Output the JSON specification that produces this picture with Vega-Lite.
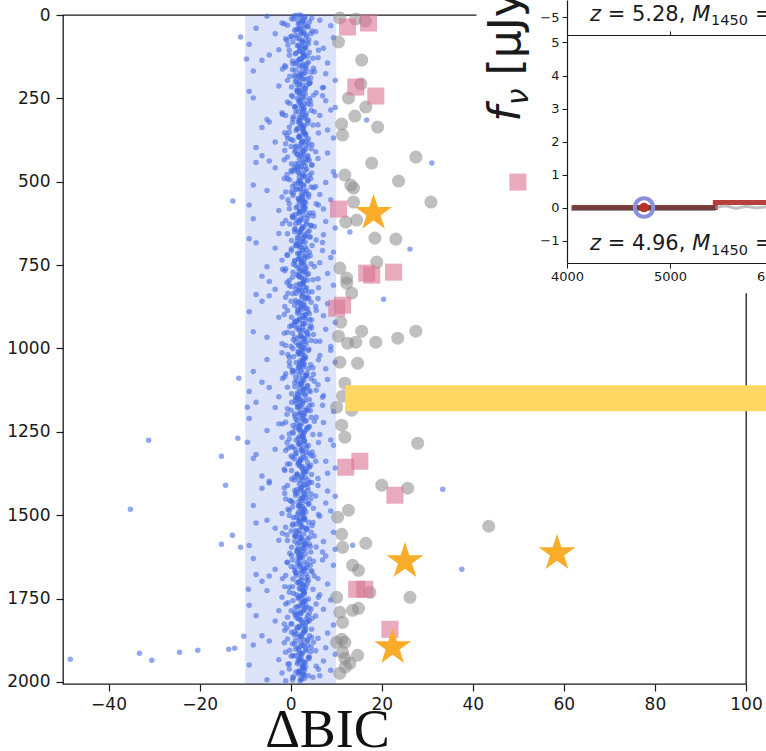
{
"$schema":"https://vega.github.io/schema/vega-lite/v6.json",
"width":683,"height":669,
"autosize":{"type":"none"},
"padding":{"left":63,"top":15,"right":20,"bottom":67},
"background":"#ffffff",
"config":{
 "view":{"stroke":"#1a1a1a","strokeWidth":1.3},
 "axis":{"grid":false,"domain":false,"labelFont":"DejaVu Sans","titleFont":"DejaVu Sans","labelColor":"#1a1a1a","tickColor":"#1a1a1a","domainColor":"#1a1a1a","labelFlush":false,"labelOverlap":false},
 "text":{"font":"DejaVu Sans","color":"#1a1a1a"}
},
"datasets":{
"blue":[
{"x":2.1,"y":0},{"x":-5.2,"y":4},{"x":3.0,"y":8},{"x":0.6,"y":12},{"x":6.4,"y":16},{"x":2.5,"y":20},{"x":-1.9,"y":24},{"x":1.7,"y":28},{"x":8.8,"y":32},{"x":2.9,"y":36},
{"x":-7.6,"y":40},{"x":1.2,"y":44},{"x":4.7,"y":48},{"x":2.3,"y":52},{"x":-3.4,"y":56},{"x":3.5,"y":60},{"x":0.1,"y":64},{"x":9.4,"y":68},{"x":1.9,"y":72},{"x":-0.8,"y":76},
{"x":2.7,"y":80},{"x":5.6,"y":84},{"x":-9.1,"y":88},{"x":1.5,"y":92},{"x":3.2,"y":96},{"x":7.2,"y":100},{"x":-2.6,"y":104},{"x":2.0,"y":108},{"x":4.1,"y":112},{"x":1.0,"y":116},
{"x":-4.7,"y":120},{"x":3.7,"y":124},{"x":6.0,"y":128},{"x":2.4,"y":132},{"x":-6.3,"y":136},{"x":1.4,"y":140},{"x":8.1,"y":144},{"x":2.8,"y":148},{"x":-1.3,"y":152},{"x":3.3,"y":156},
{"x":5.0,"y":160},{"x":0.4,"y":164},{"x":-8.2,"y":168},{"x":2.2,"y":172},{"x":7.7,"y":176},{"x":1.8,"y":180},{"x":-0.2,"y":184},{"x":4.4,"y":188},{"x":2.6,"y":192},{"x":9.8,"y":196},
{"x":1.0,"y":201},{"x":4.1,"y":205},{"x":2.0,"y":209},{"x":-2.6,"y":213},{"x":7.2,"y":217},{"x":3.2,"y":221},{"x":1.5,"y":225},{"x":-9.1,"y":229},{"x":5.6,"y":233},{"x":2.7,"y":237},
{"x":5.0,"y":241},{"x":0.4,"y":245},{"x":-8.2,"y":249},{"x":2.2,"y":253},{"x":7.7,"y":257},{"x":1.8,"y":261},{"x":-0.2,"y":265},{"x":4.4,"y":269},{"x":2.6,"y":273},{"x":9.8,"y":277},
{"x":2.9,"y":281},{"x":8.8,"y":285},{"x":1.7,"y":289},{"x":-1.9,"y":293},{"x":2.5,"y":297},{"x":6.4,"y":301},{"x":0.6,"y":305},{"x":3.0,"y":309},{"x":-5.2,"y":313},{"x":2.1,"y":317},
{"x":-4.7,"y":321},{"x":3.7,"y":325},{"x":6.0,"y":329},{"x":2.4,"y":333},{"x":-6.3,"y":337},{"x":1.4,"y":341},{"x":8.1,"y":345},{"x":2.8,"y":349},{"x":-1.3,"y":353},{"x":3.3,"y":357},
{"x":-0.8,"y":361},{"x":1.9,"y":365},{"x":9.4,"y":369},{"x":0.1,"y":373},{"x":3.5,"y":377},{"x":-3.4,"y":381},{"x":2.3,"y":385},{"x":4.7,"y":389},{"x":1.2,"y":393},{"x":-7.6,"y":397},
{"x":3.3,"y":402},{"x":-1.3,"y":406},{"x":2.8,"y":410},{"x":8.1,"y":414},{"x":1.4,"y":418},{"x":-6.3,"y":422},{"x":2.4,"y":426},{"x":6.0,"y":430},{"x":3.7,"y":434},{"x":-4.7,"y":438},
{"x":-7.6,"y":442},{"x":1.2,"y":446},{"x":4.7,"y":450},{"x":2.3,"y":454},{"x":-3.4,"y":458},{"x":3.5,"y":462},{"x":0.1,"y":466},{"x":9.4,"y":470},{"x":1.9,"y":474},{"x":-0.8,"y":478},
{"x":9.8,"y":482},{"x":2.6,"y":486},{"x":4.4,"y":490},{"x":-0.2,"y":494},{"x":1.8,"y":498},{"x":7.7,"y":502},{"x":2.2,"y":506},{"x":-8.2,"y":510},{"x":0.4,"y":514},{"x":5.0,"y":518},
{"x":2.1,"y":522},{"x":-5.2,"y":526},{"x":3.0,"y":530},{"x":0.6,"y":534},{"x":6.4,"y":538},{"x":2.5,"y":542},{"x":-1.9,"y":546},{"x":1.7,"y":550},{"x":8.8,"y":554},{"x":2.9,"y":558},
{"x":2.7,"y":562},{"x":5.6,"y":566},{"x":-9.1,"y":570},{"x":1.5,"y":574},{"x":3.2,"y":578},{"x":7.2,"y":582},{"x":-2.6,"y":586},{"x":2.0,"y":590},{"x":4.1,"y":594},{"x":1.0,"y":598},
{"x":5.0,"y":603},{"x":0.4,"y":607},{"x":-8.2,"y":611},{"x":2.2,"y":615},{"x":7.7,"y":619},{"x":1.8,"y":623},{"x":-0.2,"y":627},{"x":4.4,"y":631},{"x":2.6,"y":635},{"x":9.8,"y":639},
{"x":1.0,"y":643},{"x":4.1,"y":647},{"x":2.0,"y":651},{"x":-2.6,"y":655},{"x":7.2,"y":659},{"x":3.2,"y":663},{"x":1.5,"y":667},{"x":-9.1,"y":671},{"x":5.6,"y":675},{"x":2.7,"y":679},
{"x":-7.6,"y":683},{"x":1.2,"y":687},{"x":4.7,"y":691},{"x":2.3,"y":695},{"x":-3.4,"y":699},{"x":3.5,"y":703},{"x":0.1,"y":707},{"x":9.4,"y":711},{"x":1.9,"y":715},{"x":-0.8,"y":719},
{"x":2.9,"y":723},{"x":8.8,"y":727},{"x":1.7,"y":731},{"x":-1.9,"y":735},{"x":2.5,"y":739},{"x":6.4,"y":743},{"x":0.6,"y":747},{"x":3.0,"y":751},{"x":-5.2,"y":755},{"x":2.1,"y":759},
{"x":3.3,"y":763},{"x":-1.3,"y":767},{"x":2.8,"y":771},{"x":8.1,"y":775},{"x":1.4,"y":779},{"x":-6.3,"y":783},{"x":2.4,"y":787},{"x":6.0,"y":791},{"x":3.7,"y":795},{"x":-4.7,"y":799},
{"x":-0.8,"y":802},{"x":1.9,"y":806},{"x":9.4,"y":810},{"x":0.1,"y":814},{"x":3.5,"y":818},{"x":-3.4,"y":822},{"x":2.3,"y":826},{"x":4.7,"y":830},{"x":1.2,"y":834},{"x":-7.6,"y":838},
{"x":-4.7,"y":842},{"x":3.7,"y":846},{"x":6.0,"y":850},{"x":2.4,"y":854},{"x":-6.3,"y":858},{"x":1.4,"y":862},{"x":8.1,"y":866},{"x":2.8,"y":870},{"x":-1.3,"y":874},{"x":3.3,"y":878},
{"x":2.7,"y":882},{"x":5.6,"y":886},{"x":-9.1,"y":890},{"x":1.5,"y":894},{"x":3.2,"y":898},{"x":7.2,"y":902},{"x":-2.6,"y":906},{"x":2.0,"y":910},{"x":4.1,"y":914},{"x":1.0,"y":918},
{"x":9.8,"y":922},{"x":2.6,"y":926},{"x":4.4,"y":930},{"x":-0.2,"y":934},{"x":1.8,"y":938},{"x":7.7,"y":942},{"x":2.2,"y":946},{"x":-8.2,"y":950},{"x":0.4,"y":954},{"x":5.0,"y":958},
{"x":2.1,"y":962},{"x":-5.2,"y":966},{"x":3.0,"y":970},{"x":0.6,"y":974},{"x":6.4,"y":978},{"x":2.5,"y":982},{"x":-1.9,"y":986},{"x":1.7,"y":990},{"x":8.8,"y":994},{"x":2.9,"y":998},
{"x":2.9,"y":1001},{"x":8.8,"y":1005},{"x":1.7,"y":1009},{"x":-1.9,"y":1013},{"x":2.5,"y":1017},{"x":6.4,"y":1021},{"x":0.6,"y":1025},{"x":3.0,"y":1029},{"x":-5.2,"y":1033},{"x":2.1,"y":1037},
{"x":9.8,"y":1041},{"x":2.6,"y":1045},{"x":4.4,"y":1049},{"x":-0.2,"y":1053},{"x":1.8,"y":1057},{"x":7.7,"y":1061},{"x":2.2,"y":1065},{"x":-8.2,"y":1069},{"x":0.4,"y":1073},{"x":5.0,"y":1077},
{"x":3.3,"y":1081},{"x":-1.3,"y":1085},{"x":2.8,"y":1089},{"x":8.1,"y":1093},{"x":1.4,"y":1097},{"x":-6.3,"y":1101},{"x":2.4,"y":1105},{"x":6.0,"y":1109},{"x":3.7,"y":1113},{"x":-4.7,"y":1117},
{"x":2.7,"y":1121},{"x":5.6,"y":1125},{"x":-9.1,"y":1129},{"x":1.5,"y":1133},{"x":3.2,"y":1137},{"x":7.2,"y":1141},{"x":-2.6,"y":1145},{"x":2.0,"y":1149},{"x":4.1,"y":1153},{"x":1.0,"y":1157},
{"x":-7.6,"y":1161},{"x":1.2,"y":1165},{"x":4.7,"y":1169},{"x":2.3,"y":1173},{"x":-3.4,"y":1177},{"x":3.5,"y":1181},{"x":0.1,"y":1185},{"x":9.4,"y":1189},{"x":1.9,"y":1193},{"x":-0.8,"y":1197},
{"x":2.7,"y":1202},{"x":5.6,"y":1206},{"x":-9.1,"y":1210},{"x":1.5,"y":1214},{"x":3.2,"y":1218},{"x":7.2,"y":1222},{"x":-2.6,"y":1226},{"x":2.0,"y":1230},{"x":4.1,"y":1234},{"x":1.0,"y":1238},
{"x":2.1,"y":1242},{"x":-5.2,"y":1246},{"x":3.0,"y":1250},{"x":0.6,"y":1254},{"x":6.4,"y":1258},{"x":2.5,"y":1262},{"x":-1.9,"y":1266},{"x":1.7,"y":1270},{"x":8.8,"y":1274},{"x":2.9,"y":1278},
{"x":-0.8,"y":1282},{"x":1.9,"y":1286},{"x":9.4,"y":1290},{"x":0.1,"y":1294},{"x":3.5,"y":1298},{"x":-3.4,"y":1302},{"x":2.3,"y":1306},{"x":4.7,"y":1310},{"x":1.2,"y":1314},{"x":-7.6,"y":1318},
{"x":5.0,"y":1322},{"x":0.4,"y":1326},{"x":-8.2,"y":1330},{"x":2.2,"y":1334},{"x":7.7,"y":1338},{"x":1.8,"y":1342},{"x":-0.2,"y":1346},{"x":4.4,"y":1350},{"x":2.6,"y":1354},{"x":9.8,"y":1358},
{"x":3.3,"y":1362},{"x":-1.3,"y":1366},{"x":2.8,"y":1370},{"x":8.1,"y":1374},{"x":1.4,"y":1378},{"x":-6.3,"y":1382},{"x":2.4,"y":1386},{"x":6.0,"y":1390},{"x":3.7,"y":1394},{"x":-4.7,"y":1398},
{"x":-4.7,"y":1403},{"x":3.7,"y":1407},{"x":6.0,"y":1411},{"x":2.4,"y":1415},{"x":-6.3,"y":1419},{"x":1.4,"y":1423},{"x":8.1,"y":1427},{"x":2.8,"y":1431},{"x":-1.3,"y":1435},{"x":3.3,"y":1439},
{"x":9.8,"y":1443},{"x":2.6,"y":1447},{"x":4.4,"y":1451},{"x":-0.2,"y":1455},{"x":1.8,"y":1459},{"x":7.7,"y":1463},{"x":2.2,"y":1467},{"x":-8.2,"y":1471},{"x":0.4,"y":1475},{"x":5.0,"y":1479},
{"x":2.9,"y":1483},{"x":8.8,"y":1487},{"x":1.7,"y":1491},{"x":-1.9,"y":1495},{"x":2.5,"y":1499},{"x":6.4,"y":1503},{"x":0.6,"y":1507},{"x":3.0,"y":1511},{"x":-5.2,"y":1515},{"x":2.1,"y":1519},
{"x":-7.6,"y":1523},{"x":1.2,"y":1527},{"x":4.7,"y":1531},{"x":2.3,"y":1535},{"x":-3.4,"y":1539},{"x":3.5,"y":1543},{"x":0.1,"y":1547},{"x":9.4,"y":1551},{"x":1.9,"y":1555},{"x":-0.8,"y":1559},
{"x":1.0,"y":1563},{"x":4.1,"y":1567},{"x":2.0,"y":1571},{"x":-2.6,"y":1575},{"x":7.2,"y":1579},{"x":3.2,"y":1583},{"x":1.5,"y":1587},{"x":-9.1,"y":1591},{"x":5.6,"y":1595},{"x":2.7,"y":1599},
{"x":9.8,"y":1602},{"x":2.6,"y":1606},{"x":4.4,"y":1610},{"x":-0.2,"y":1614},{"x":1.8,"y":1618},{"x":7.7,"y":1622},{"x":2.2,"y":1626},{"x":-8.2,"y":1630},{"x":0.4,"y":1634},{"x":5.0,"y":1638},
{"x":-0.8,"y":1642},{"x":1.9,"y":1646},{"x":9.4,"y":1650},{"x":0.1,"y":1654},{"x":3.5,"y":1658},{"x":-3.4,"y":1662},{"x":2.3,"y":1666},{"x":4.7,"y":1670},{"x":1.2,"y":1674},{"x":-7.6,"y":1678},
{"x":-4.7,"y":1682},{"x":3.7,"y":1686},{"x":6.0,"y":1690},{"x":2.4,"y":1694},{"x":-6.3,"y":1698},{"x":1.4,"y":1702},{"x":8.1,"y":1706},{"x":2.8,"y":1710},{"x":-1.3,"y":1714},{"x":3.3,"y":1718},
{"x":2.1,"y":1722},{"x":-5.2,"y":1726},{"x":3.0,"y":1730},{"x":0.6,"y":1734},{"x":6.4,"y":1738},{"x":2.5,"y":1742},{"x":-1.9,"y":1746},{"x":1.7,"y":1750},{"x":8.8,"y":1754},{"x":2.9,"y":1758},
{"x":2.7,"y":1762},{"x":5.6,"y":1766},{"x":-9.1,"y":1770},{"x":1.5,"y":1774},{"x":3.2,"y":1778},{"x":7.2,"y":1782},{"x":-2.6,"y":1786},{"x":2.0,"y":1790},{"x":4.1,"y":1794},{"x":1.0,"y":1798},
{"x":-7.6,"y":1801},{"x":1.2,"y":1805},{"x":4.7,"y":1809},{"x":2.3,"y":1813},{"x":-3.4,"y":1817},{"x":3.5,"y":1821},{"x":0.1,"y":1825},{"x":9.4,"y":1829},{"x":1.9,"y":1833},{"x":-0.8,"y":1837},
{"x":3.3,"y":1841},{"x":-1.3,"y":1845},{"x":2.8,"y":1849},{"x":8.1,"y":1853},{"x":1.4,"y":1857},{"x":-6.3,"y":1861},{"x":2.4,"y":1865},{"x":6.0,"y":1869},{"x":3.7,"y":1873},{"x":-4.7,"y":1877},
{"x":5.0,"y":1881},{"x":0.4,"y":1885},{"x":-8.2,"y":1889},{"x":2.2,"y":1893},{"x":7.7,"y":1897},{"x":1.8,"y":1901},{"x":-0.2,"y":1905},{"x":4.4,"y":1909},{"x":2.6,"y":1913},{"x":9.8,"y":1917},
{"x":1.0,"y":1921},{"x":4.1,"y":1925},{"x":2.0,"y":1929},{"x":-2.6,"y":1933},{"x":7.2,"y":1937},{"x":3.2,"y":1941},{"x":1.5,"y":1945},{"x":-9.1,"y":1949},{"x":5.6,"y":1953},{"x":2.7,"y":1957},
{"x":2.9,"y":1961},{"x":8.8,"y":1965},{"x":1.7,"y":1969},{"x":-1.9,"y":1973},{"x":2.5,"y":1977},{"x":6.4,"y":1981},{"x":0.6,"y":1985},{"x":3.0,"y":1989},{"x":-5.2,"y":1993},{"x":2.1,"y":1997},
{"x":2.3,"y":3},{"x":1.6,"y":16},{"x":3.1,"y":29},{"x":2.0,"y":42},{"x":2.8,"y":55},{"x":1.3,"y":68},{"x":3.5,"y":81},{"x":2.5,"y":94},{"x":1.9,"y":107},{"x":3.0,"y":120},{"x":2.2,"y":133},{"x":1.1,"y":146},{"x":2.7,"y":159},{"x":3.3,"y":172},{"x":1.8,"y":185},
{"x":1.3,"y":198},{"x":3.5,"y":211},{"x":2.5,"y":224},{"x":1.9,"y":237},{"x":3.0,"y":250},{"x":2.2,"y":263},{"x":1.1,"y":276},{"x":2.7,"y":289},{"x":3.3,"y":302},{"x":1.8,"y":315},{"x":2.3,"y":328},{"x":1.6,"y":341},{"x":3.1,"y":354},{"x":2.0,"y":367},{"x":2.8,"y":380},
{"x":2.2,"y":393},{"x":1.1,"y":406},{"x":2.7,"y":419},{"x":3.3,"y":432},{"x":1.8,"y":445},{"x":2.3,"y":458},{"x":1.6,"y":471},{"x":3.1,"y":484},{"x":2.0,"y":497},{"x":2.8,"y":510},{"x":1.3,"y":523},{"x":3.5,"y":536},{"x":2.5,"y":549},{"x":1.9,"y":562},{"x":3.0,"y":575},
{"x":2.0,"y":588},{"x":2.8,"y":601},{"x":1.3,"y":614},{"x":3.5,"y":627},{"x":2.5,"y":640},{"x":1.9,"y":653},{"x":3.0,"y":666},{"x":2.2,"y":679},{"x":1.1,"y":692},{"x":2.7,"y":705},{"x":3.3,"y":718},{"x":1.8,"y":731},{"x":2.3,"y":744},{"x":1.6,"y":757},{"x":3.1,"y":770},
{"x":1.9,"y":783},{"x":3.0,"y":796},{"x":2.2,"y":809},{"x":1.1,"y":822},{"x":2.7,"y":835},{"x":3.3,"y":848},{"x":1.8,"y":861},{"x":2.3,"y":874},{"x":1.6,"y":887},{"x":3.1,"y":900},{"x":2.0,"y":913},{"x":2.8,"y":926},{"x":1.3,"y":939},{"x":3.5,"y":952},{"x":2.5,"y":965},
{"x":3.3,"y":978},{"x":1.8,"y":991},{"x":2.3,"y":1004},{"x":1.6,"y":1017},{"x":3.1,"y":1030},{"x":2.0,"y":1043},{"x":2.8,"y":1056},{"x":1.3,"y":1069},{"x":3.5,"y":1082},{"x":2.5,"y":1095},{"x":1.9,"y":1108},{"x":3.0,"y":1121},{"x":2.2,"y":1134},{"x":1.1,"y":1147},{"x":2.7,"y":1160},
{"x":1.6,"y":1173},{"x":3.1,"y":1186},{"x":2.0,"y":1199},{"x":2.8,"y":1212},{"x":1.3,"y":1225},{"x":3.5,"y":1238},{"x":2.5,"y":1251},{"x":1.9,"y":1264},{"x":3.0,"y":1277},{"x":2.2,"y":1290},{"x":1.1,"y":1303},{"x":2.7,"y":1316},{"x":3.3,"y":1329},{"x":1.8,"y":1342},{"x":2.3,"y":1355},
{"x":3.5,"y":1368},{"x":2.5,"y":1381},{"x":1.9,"y":1394},{"x":3.0,"y":1407},{"x":2.2,"y":1420},{"x":1.1,"y":1433},{"x":2.7,"y":1446},{"x":3.3,"y":1459},{"x":1.8,"y":1472},{"x":2.3,"y":1485},{"x":1.6,"y":1498},{"x":3.1,"y":1511},{"x":2.0,"y":1524},{"x":2.8,"y":1537},{"x":1.3,"y":1550},
{"x":1.1,"y":1563},{"x":2.7,"y":1576},{"x":3.3,"y":1589},{"x":1.8,"y":1602},{"x":2.3,"y":1615},{"x":1.6,"y":1628},{"x":3.1,"y":1641},{"x":2.0,"y":1654},{"x":2.8,"y":1667},{"x":1.3,"y":1680},{"x":3.5,"y":1693},{"x":2.5,"y":1706},{"x":1.9,"y":1719},{"x":3.0,"y":1732},{"x":2.2,"y":1745},
{"x":3.1,"y":1758},{"x":2.0,"y":1771},{"x":2.8,"y":1784},{"x":1.3,"y":1797},{"x":3.5,"y":1810},{"x":2.5,"y":1823},{"x":1.9,"y":1836},{"x":3.0,"y":1849},{"x":2.2,"y":1862},{"x":1.1,"y":1875},{"x":2.7,"y":1888},{"x":3.3,"y":1901},{"x":1.8,"y":1914},{"x":2.3,"y":1927},{"x":1.6,"y":1940},
{"x":2.5,"y":1953},{"x":1.9,"y":1966},{"x":3.0,"y":1979},{"x":2.2,"y":1992},
{"x":1.4,"y":1},{"x":3.2,"y":6},{"x":0.2,"y":11},{"x":2.6,"y":16},{"x":4.1,"y":21},{"x":1.9,"y":26},{"x":-0.7,"y":31},{"x":3.7,"y":36},{"x":2.2,"y":41},{"x":0.9,"y":46},{"x":2.9,"y":51},{"x":4.5,"y":56},{"x":1.1,"y":61},{"x":3.4,"y":66},{"x":-1.1,"y":71},{"x":2.4,"y":76},{"x":0.5,"y":81},{"x":3.9,"y":86},{"x":1.7,"y":91},{"x":2.0,"y":96},{"x":3.0,"y":101},{"x":-0.3,"y":106},{"x":2.7,"y":111},
{"x":2.7,"y":116},{"x":-0.3,"y":121},{"x":3.0,"y":126},{"x":2.0,"y":131},{"x":1.7,"y":136},{"x":3.9,"y":141},{"x":0.5,"y":146},{"x":2.4,"y":151},{"x":-1.1,"y":156},{"x":3.4,"y":161},{"x":1.1,"y":166},{"x":4.5,"y":171},{"x":2.9,"y":176},{"x":0.9,"y":181},{"x":2.2,"y":186},{"x":3.7,"y":191},{"x":-0.7,"y":196},{"x":1.9,"y":201},{"x":4.1,"y":206},{"x":2.6,"y":211},{"x":0.2,"y":216},{"x":3.2,"y":221},{"x":1.4,"y":226},
{"x":1.4,"y":231},{"x":3.2,"y":236},{"x":0.2,"y":241},{"x":2.6,"y":246},{"x":4.1,"y":251},{"x":1.9,"y":256},{"x":-0.7,"y":261},{"x":3.7,"y":266},{"x":2.2,"y":271},{"x":0.9,"y":276},{"x":2.9,"y":281},{"x":4.5,"y":286},{"x":1.1,"y":291},{"x":3.4,"y":296},{"x":-1.1,"y":301},{"x":2.4,"y":306},{"x":0.5,"y":311},{"x":3.9,"y":316},{"x":1.7,"y":321},{"x":2.0,"y":326},{"x":3.0,"y":331},{"x":-0.3,"y":336},{"x":2.7,"y":341},
{"x":2.7,"y":346},{"x":-0.3,"y":351},{"x":3.0,"y":356},{"x":2.0,"y":361},{"x":1.7,"y":366},{"x":3.9,"y":371},{"x":0.5,"y":376},{"x":2.4,"y":381},{"x":-1.1,"y":386},{"x":3.4,"y":391},{"x":1.1,"y":396},{"x":4.5,"y":401},{"x":2.9,"y":406},{"x":0.9,"y":411},{"x":2.2,"y":416},{"x":3.7,"y":421},{"x":-0.7,"y":426},{"x":1.9,"y":431},{"x":4.1,"y":436},{"x":2.6,"y":441},{"x":0.2,"y":446},{"x":3.2,"y":451},{"x":1.4,"y":456},
{"x":1.4,"y":461},{"x":3.2,"y":466},{"x":0.2,"y":471},{"x":2.6,"y":476},{"x":4.1,"y":481},{"x":1.9,"y":486},{"x":-0.7,"y":491},{"x":3.7,"y":496},{"x":2.2,"y":501},{"x":0.9,"y":506},{"x":2.9,"y":511},{"x":4.5,"y":516},{"x":1.1,"y":521},{"x":3.4,"y":526},{"x":-1.1,"y":531},{"x":2.4,"y":536},{"x":0.5,"y":541},{"x":3.9,"y":546},{"x":1.7,"y":551},{"x":2.0,"y":556},{"x":3.0,"y":561},{"x":-0.3,"y":566},{"x":2.7,"y":571},
{"x":2.7,"y":576},{"x":-0.3,"y":581},{"x":3.0,"y":586},{"x":2.0,"y":591},{"x":1.7,"y":596},{"x":3.9,"y":601},{"x":0.5,"y":606},{"x":2.4,"y":611},{"x":-1.1,"y":616},{"x":3.4,"y":621},{"x":1.1,"y":626},{"x":4.5,"y":631},{"x":2.9,"y":636},{"x":0.9,"y":641},{"x":2.2,"y":646},{"x":3.7,"y":651},{"x":-0.7,"y":656},{"x":1.9,"y":661},{"x":4.1,"y":666},{"x":2.6,"y":671},{"x":0.2,"y":676},{"x":3.2,"y":681},{"x":1.4,"y":686},
{"x":1.4,"y":691},{"x":3.2,"y":696},{"x":0.2,"y":701},{"x":2.6,"y":706},{"x":4.1,"y":711},{"x":1.9,"y":716},{"x":-0.7,"y":721},{"x":3.7,"y":726},{"x":2.2,"y":731},{"x":0.9,"y":736},{"x":2.9,"y":741},{"x":4.5,"y":746},{"x":1.1,"y":751},{"x":3.4,"y":756},{"x":-1.1,"y":761},{"x":2.4,"y":766},{"x":0.5,"y":771},{"x":3.9,"y":776},{"x":1.7,"y":781},{"x":2.0,"y":786},{"x":3.0,"y":791},{"x":-0.3,"y":796},{"x":2.7,"y":801},
{"x":2.7,"y":806},{"x":-0.3,"y":811},{"x":3.0,"y":816},{"x":2.0,"y":821},{"x":1.7,"y":826},{"x":3.9,"y":831},{"x":0.5,"y":836},{"x":2.4,"y":841},{"x":-1.1,"y":846},{"x":3.4,"y":851},{"x":1.1,"y":856},{"x":4.5,"y":861},{"x":2.9,"y":866},{"x":0.9,"y":871},{"x":2.2,"y":876},{"x":3.7,"y":881},{"x":-0.7,"y":886},{"x":1.9,"y":891},{"x":4.1,"y":896},{"x":2.6,"y":901},{"x":0.2,"y":906},{"x":3.2,"y":911},{"x":1.4,"y":916},
{"x":1.4,"y":921},{"x":3.2,"y":926},{"x":0.2,"y":931},{"x":2.6,"y":936},{"x":4.1,"y":941},{"x":1.9,"y":946},{"x":-0.7,"y":951},{"x":3.7,"y":956},{"x":2.2,"y":961},{"x":0.9,"y":966},{"x":2.9,"y":971},{"x":4.5,"y":976},{"x":1.1,"y":981},{"x":3.4,"y":986},{"x":-1.1,"y":991},{"x":2.4,"y":996},{"x":0.5,"y":1001},{"x":3.9,"y":1006},{"x":1.7,"y":1011},{"x":2.0,"y":1016},{"x":3.0,"y":1021},{"x":-0.3,"y":1026},{"x":2.7,"y":1031},
{"x":2.7,"y":1036},{"x":-0.3,"y":1041},{"x":3.0,"y":1046},{"x":2.0,"y":1051},{"x":1.7,"y":1056},{"x":3.9,"y":1061},{"x":0.5,"y":1066},{"x":2.4,"y":1071},{"x":-1.1,"y":1076},{"x":3.4,"y":1081},{"x":1.1,"y":1086},{"x":4.5,"y":1091},{"x":2.9,"y":1096},{"x":0.9,"y":1101},{"x":2.2,"y":1106},{"x":3.7,"y":1111},{"x":-0.7,"y":1116},{"x":1.9,"y":1121},{"x":4.1,"y":1126},{"x":2.6,"y":1131},{"x":0.2,"y":1136},{"x":3.2,"y":1141},{"x":1.4,"y":1146},
{"x":1.4,"y":1151},{"x":3.2,"y":1156},{"x":0.2,"y":1161},{"x":2.6,"y":1166},{"x":4.1,"y":1171},{"x":1.9,"y":1176},{"x":-0.7,"y":1181},{"x":3.7,"y":1186},{"x":2.2,"y":1191},{"x":0.9,"y":1196},{"x":2.9,"y":1201},{"x":4.5,"y":1206},{"x":1.1,"y":1211},{"x":3.4,"y":1216},{"x":-1.1,"y":1221},{"x":2.4,"y":1226},{"x":0.5,"y":1231},{"x":3.9,"y":1236},{"x":1.7,"y":1241},{"x":2.0,"y":1246},{"x":3.0,"y":1251},{"x":-0.3,"y":1256},{"x":2.7,"y":1261},
{"x":2.7,"y":1266},{"x":-0.3,"y":1271},{"x":3.0,"y":1276},{"x":2.0,"y":1281},{"x":1.7,"y":1286},{"x":3.9,"y":1291},{"x":0.5,"y":1296},{"x":2.4,"y":1301},{"x":-1.1,"y":1306},{"x":3.4,"y":1311},{"x":1.1,"y":1316},{"x":4.5,"y":1321},{"x":2.9,"y":1326},{"x":0.9,"y":1331},{"x":2.2,"y":1336},{"x":3.7,"y":1341},{"x":-0.7,"y":1346},{"x":1.9,"y":1351},{"x":4.1,"y":1356},{"x":2.6,"y":1361},{"x":0.2,"y":1366},{"x":3.2,"y":1371},{"x":1.4,"y":1376},
{"x":1.4,"y":1381},{"x":3.2,"y":1386},{"x":0.2,"y":1391},{"x":2.6,"y":1396},{"x":4.1,"y":1401},{"x":1.9,"y":1406},{"x":-0.7,"y":1411},{"x":3.7,"y":1416},{"x":2.2,"y":1421},{"x":0.9,"y":1426},{"x":2.9,"y":1431},{"x":4.5,"y":1436},{"x":1.1,"y":1441},{"x":3.4,"y":1446},{"x":-1.1,"y":1451},{"x":2.4,"y":1456},{"x":0.5,"y":1461},{"x":3.9,"y":1466},{"x":1.7,"y":1471},{"x":2.0,"y":1476},{"x":3.0,"y":1481},{"x":-0.3,"y":1486},{"x":2.7,"y":1491},
{"x":2.7,"y":1496},{"x":-0.3,"y":1501},{"x":3.0,"y":1506},{"x":2.0,"y":1511},{"x":1.7,"y":1516},{"x":3.9,"y":1521},{"x":0.5,"y":1526},{"x":2.4,"y":1531},{"x":-1.1,"y":1536},{"x":3.4,"y":1541},{"x":1.1,"y":1546},{"x":4.5,"y":1551},{"x":2.9,"y":1556},{"x":0.9,"y":1561},{"x":2.2,"y":1566},{"x":3.7,"y":1571},{"x":-0.7,"y":1576},{"x":1.9,"y":1581},{"x":4.1,"y":1586},{"x":2.6,"y":1591},{"x":0.2,"y":1596},{"x":3.2,"y":1601},{"x":1.4,"y":1606},
{"x":1.4,"y":1611},{"x":3.2,"y":1616},{"x":0.2,"y":1621},{"x":2.6,"y":1626},{"x":4.1,"y":1631},{"x":1.9,"y":1636},{"x":-0.7,"y":1641},{"x":3.7,"y":1646},{"x":2.2,"y":1651},{"x":0.9,"y":1656},{"x":2.9,"y":1661},{"x":4.5,"y":1666},{"x":1.1,"y":1671},{"x":3.4,"y":1676},{"x":-1.1,"y":1681},{"x":2.4,"y":1686},{"x":0.5,"y":1691},{"x":3.9,"y":1696},{"x":1.7,"y":1701},{"x":2.0,"y":1706},{"x":3.0,"y":1711},{"x":-0.3,"y":1716},{"x":2.7,"y":1721},
{"x":2.7,"y":1726},{"x":-0.3,"y":1731},{"x":3.0,"y":1736},{"x":2.0,"y":1741},{"x":1.7,"y":1746},{"x":3.9,"y":1751},{"x":0.5,"y":1756},{"x":2.4,"y":1761},{"x":-1.1,"y":1766},{"x":3.4,"y":1771},{"x":1.1,"y":1776},{"x":4.5,"y":1781},{"x":2.9,"y":1786},{"x":0.9,"y":1791},{"x":2.2,"y":1796},{"x":3.7,"y":1801},{"x":-0.7,"y":1806},{"x":1.9,"y":1811},{"x":4.1,"y":1816},{"x":2.6,"y":1821},{"x":0.2,"y":1826},{"x":3.2,"y":1831},{"x":1.4,"y":1836},
{"x":1.4,"y":1841},{"x":3.2,"y":1846},{"x":0.2,"y":1851},{"x":2.6,"y":1856},{"x":4.1,"y":1861},{"x":1.9,"y":1866},{"x":-0.7,"y":1871},{"x":3.7,"y":1876},{"x":2.2,"y":1881},{"x":0.9,"y":1886},{"x":2.9,"y":1891},{"x":4.5,"y":1896},{"x":1.1,"y":1901},{"x":3.4,"y":1906},{"x":-1.1,"y":1911},{"x":2.4,"y":1916},{"x":0.5,"y":1921},{"x":3.9,"y":1926},{"x":1.7,"y":1931},{"x":2.0,"y":1936},{"x":3.0,"y":1941},{"x":-0.3,"y":1946},{"x":2.7,"y":1951},
{"x":2.7,"y":1956},{"x":-0.3,"y":1961},{"x":3.0,"y":1966},{"x":2.0,"y":1971},{"x":1.7,"y":1976},{"x":3.9,"y":1981},{"x":0.5,"y":1986},{"x":2.4,"y":1991},{"x":-1.1,"y":1996},
{"x":0.8,"y":2},{"x":4.6,"y":10},{"x":2.9,"y":18},{"x":-1.4,"y":26},{"x":3.8,"y":34},{"x":1.6,"y":42},{"x":5.5,"y":50},{"x":2.2,"y":58},{"x":0.1,"y":66},{"x":4.0,"y":74},{"x":2.6,"y":82},{"x":-0.6,"y":90},{"x":3.3,"y":98},{"x":6.1,"y":106},{"x":1.2,"y":114},{"x":2.8,"y":122},{"x":4.9,"y":130},{"x":0.4,"y":138},{"x":3.6,"y":146},{"x":1.9,"y":154},{"x":-1.8,"y":162},{"x":5.2,"y":170},{"x":2.4,"y":178},{"x":0.9,"y":186},{"x":3.1,"y":194},{"x":4.3,"y":202},{"x":1.5,"y":210},{"x":7.0,"y":218},{"x":2.0,"y":226},
{"x":2.0,"y":234},{"x":7.0,"y":242},{"x":1.5,"y":250},{"x":4.3,"y":258},{"x":3.1,"y":266},{"x":0.9,"y":274},{"x":2.4,"y":282},{"x":5.2,"y":290},{"x":-1.8,"y":298},{"x":1.9,"y":306},{"x":3.6,"y":314},{"x":0.4,"y":322},{"x":4.9,"y":330},{"x":2.8,"y":338},{"x":1.2,"y":346},{"x":6.1,"y":354},{"x":3.3,"y":362},{"x":-0.6,"y":370},{"x":2.6,"y":378},{"x":4.0,"y":386},{"x":0.1,"y":394},{"x":2.2,"y":402},{"x":5.5,"y":410},{"x":1.6,"y":418},{"x":3.8,"y":426},{"x":-1.4,"y":434},{"x":2.9,"y":442},{"x":4.6,"y":450},{"x":0.8,"y":458},
{"x":0.8,"y":466},{"x":4.6,"y":474},{"x":2.9,"y":482},{"x":-1.4,"y":490},{"x":3.8,"y":498},{"x":1.6,"y":506},{"x":5.5,"y":514},{"x":2.2,"y":522},{"x":0.1,"y":530},{"x":4.0,"y":538},{"x":2.6,"y":546},{"x":-0.6,"y":554},{"x":3.3,"y":562},{"x":6.1,"y":570},{"x":1.2,"y":578},{"x":2.8,"y":586},{"x":4.9,"y":594},{"x":0.4,"y":602},{"x":3.6,"y":610},{"x":1.9,"y":618},{"x":-1.8,"y":626},{"x":5.2,"y":634},{"x":2.4,"y":642},{"x":0.9,"y":650},{"x":3.1,"y":658},{"x":4.3,"y":666},{"x":1.5,"y":674},{"x":7.0,"y":682},{"x":2.0,"y":690},
{"x":2.0,"y":698},{"x":7.0,"y":706},{"x":1.5,"y":714},{"x":4.3,"y":722},{"x":3.1,"y":730},{"x":0.9,"y":738},{"x":2.4,"y":746},{"x":5.2,"y":754},{"x":-1.8,"y":762},{"x":1.9,"y":770},{"x":3.6,"y":778},{"x":0.4,"y":786},{"x":4.9,"y":794},{"x":2.8,"y":802},{"x":1.2,"y":810},{"x":6.1,"y":818},{"x":3.3,"y":826},{"x":-0.6,"y":834},{"x":2.6,"y":842},{"x":4.0,"y":850},{"x":0.1,"y":858},{"x":2.2,"y":866},{"x":5.5,"y":874},{"x":1.6,"y":882},{"x":3.8,"y":890},{"x":-1.4,"y":898},{"x":2.9,"y":906},{"x":4.6,"y":914},{"x":0.8,"y":922},
{"x":0.8,"y":930},{"x":4.6,"y":938},{"x":2.9,"y":946},{"x":-1.4,"y":954},{"x":3.8,"y":962},{"x":1.6,"y":970},{"x":5.5,"y":978},{"x":2.2,"y":986},{"x":0.1,"y":994},{"x":4.0,"y":1002},{"x":2.6,"y":1010},{"x":-0.6,"y":1018},{"x":3.3,"y":1026},{"x":6.1,"y":1034},{"x":1.2,"y":1042},{"x":2.8,"y":1050},{"x":4.9,"y":1058},{"x":0.4,"y":1066},{"x":3.6,"y":1074},{"x":1.9,"y":1082},{"x":-1.8,"y":1090},{"x":5.2,"y":1098},{"x":2.4,"y":1106},{"x":0.9,"y":1114},{"x":3.1,"y":1122},{"x":4.3,"y":1130},{"x":1.5,"y":1138},{"x":7.0,"y":1146},{"x":2.0,"y":1154},
{"x":2.0,"y":1162},{"x":7.0,"y":1170},{"x":1.5,"y":1178},{"x":4.3,"y":1186},{"x":3.1,"y":1194},{"x":0.9,"y":1202},{"x":2.4,"y":1210},{"x":5.2,"y":1218},{"x":-1.8,"y":1226},{"x":1.9,"y":1234},{"x":3.6,"y":1242},{"x":0.4,"y":1250},{"x":4.9,"y":1258},{"x":2.8,"y":1266},{"x":1.2,"y":1274},{"x":6.1,"y":1282},{"x":3.3,"y":1290},{"x":-0.6,"y":1298},{"x":2.6,"y":1306},{"x":4.0,"y":1314},{"x":0.1,"y":1322},{"x":2.2,"y":1330},{"x":5.5,"y":1338},{"x":1.6,"y":1346},{"x":3.8,"y":1354},{"x":-1.4,"y":1362},{"x":2.9,"y":1370},{"x":4.6,"y":1378},{"x":0.8,"y":1386},
{"x":0.8,"y":1394},{"x":4.6,"y":1402},{"x":2.9,"y":1410},{"x":-1.4,"y":1418},{"x":3.8,"y":1426},{"x":1.6,"y":1434},{"x":5.5,"y":1442},{"x":2.2,"y":1450},{"x":0.1,"y":1458},{"x":4.0,"y":1466},{"x":2.6,"y":1474},{"x":-0.6,"y":1482},{"x":3.3,"y":1490},{"x":6.1,"y":1498},{"x":1.2,"y":1506},{"x":2.8,"y":1514},{"x":4.9,"y":1522},{"x":0.4,"y":1530},{"x":3.6,"y":1538},{"x":1.9,"y":1546},{"x":-1.8,"y":1554},{"x":5.2,"y":1562},{"x":2.4,"y":1570},{"x":0.9,"y":1578},{"x":3.1,"y":1586},{"x":4.3,"y":1594},{"x":1.5,"y":1602},{"x":7.0,"y":1610},{"x":2.0,"y":1618},
{"x":2.0,"y":1626},{"x":7.0,"y":1634},{"x":1.5,"y":1642},{"x":4.3,"y":1650},{"x":3.1,"y":1658},{"x":0.9,"y":1666},{"x":2.4,"y":1674},{"x":5.2,"y":1682},{"x":-1.8,"y":1690},{"x":1.9,"y":1698},{"x":3.6,"y":1706},{"x":0.4,"y":1714},{"x":4.9,"y":1722},{"x":2.8,"y":1730},{"x":1.2,"y":1738},{"x":6.1,"y":1746},{"x":3.3,"y":1754},{"x":-0.6,"y":1762},{"x":2.6,"y":1770},{"x":4.0,"y":1778},{"x":0.1,"y":1786},{"x":2.2,"y":1794},{"x":5.5,"y":1802},{"x":1.6,"y":1810},{"x":3.8,"y":1818},{"x":-1.4,"y":1826},{"x":2.9,"y":1834},{"x":4.6,"y":1842},{"x":0.8,"y":1850},
{"x":0.8,"y":1858},{"x":4.6,"y":1866},{"x":2.9,"y":1874},{"x":-1.4,"y":1882},{"x":3.8,"y":1890},{"x":1.6,"y":1898},{"x":5.5,"y":1906},{"x":2.2,"y":1914},{"x":0.1,"y":1922},{"x":4.0,"y":1930},{"x":2.6,"y":1938},{"x":-0.6,"y":1946},{"x":3.3,"y":1954},{"x":6.1,"y":1962},{"x":1.2,"y":1970},{"x":2.8,"y":1978},{"x":4.9,"y":1986},{"x":0.4,"y":1994},
{"x":-11.0,"y":66},{"x":-9.7,"y":132},{"x":-12.7,"y":558},{"x":-48.4,"y":1932},{"x":-31.2,"y":1275},{"x":-35.2,"y":1482},{"x":-15.2,"y":1323},{"x":-14.3,"y":1410},{"x":-11.6,"y":1269},{"x":-11.4,"y":1089},{"x":-9.5,"y":1176},{"x":-9.5,"y":1281},{"x":-12.8,"y":1560},{"x":-15.2,"y":1587},{"x":-11.0,"y":1596},{"x":-9.3,"y":1722},{"x":-10.3,"y":1863},{"x":-13.6,"y":1902},{"x":-12.3,"y":1899},{"x":-20.4,"y":1905},{"x":-24.4,"y":1911},{"x":-30.5,"y":1935},{"x":-33.2,"y":1914},{"x":31.0,"y":444},{"x":26.2,"y":702},{"x":20.4,"y":852},{"x":16.7,"y":315},{"x":13.0,"y":651},{"x":33.4,"y":1422},{"x":37.6,"y":1662},{"x":13.6,"y":1590}
],
"gray":[
{"x":10.5,"y":81},{"x":15.6,"y":135},{"x":15.4,"y":207},{"x":12.7,"y":249},{"x":16.5,"y":276},{"x":14.1,"y":303},{"x":11.2,"y":327},{"x":11.4,"y":360},{"x":19.1,"y":336},{"x":17.8,"y":444},{"x":27.5,"y":426},{"x":11.9,"y":480},{"x":13.2,"y":510},{"x":13.8,"y":519},{"x":23.7,"y":498},{"x":30.8,"y":561},{"x":13.8,"y":561},{"x":12.1,"y":621},{"x":14.5,"y":615},{"x":18.5,"y":669},{"x":23.1,"y":672},{"x":18.9,"y":741},{"x":10.8,"y":759},{"x":12.3,"y":789},{"x":12.3,"y":804},{"x":13.4,"y":834},{"x":11.0,"y":921},{"x":15.6,"y":948},{"x":27.5,"y":948},{"x":23.5,"y":969},{"x":18.7,"y":981},{"x":14.3,"y":981},{"x":10.5,"y":963},{"x":10.8,"y":1041},{"x":14.7,"y":1044},{"x":11.9,"y":1104},{"x":11.4,"y":1143},{"x":10.1,"y":1176},{"x":13.4,"y":1185},{"x":11.2,"y":1230},{"x":11.9,"y":1266},{"x":27.9,"y":1284},{"x":20.0,"y":1410},{"x":25.7,"y":1419},{"x":12.7,"y":1485},{"x":10.3,"y":1506},{"x":43.5,"y":1533},{"x":11.2,"y":1557},{"x":11.4,"y":1596},{"x":16.5,"y":1584},{"x":13.6,"y":1650},{"x":14.9,"y":1665},{"x":17.4,"y":1731},{"x":10.1,"y":1746},{"x":26.2,"y":1746},{"x":13.6,"y":1785},{"x":14.9,"y":1779},{"x":11.4,"y":1821},{"x":10.1,"y":1881},{"x":11.9,"y":1881},{"x":11.4,"y":1911},{"x":14.7,"y":1920},{"x":13.0,"y":1944},{"x":10.8,"y":1974},{"x":11.9,"y":1929},{"x":10.8,"y":9},{"x":14.3,"y":12},{"x":16.4,"y":18},{"x":12.5,"y":984},{"x":10.8,"y":1791},{"x":11.2,"y":1872},{"x":12.0,"y":1955}
],
"pink":[
{"x":12.5,"y":36},{"x":17.1,"y":24},{"x":14.3,"y":216},{"x":18.7,"y":243},{"x":10.5,"y":582},{"x":16.7,"y":774},{"x":17.8,"y":780},{"x":22.6,"y":771},{"x":10.1,"y":879},{"x":11.4,"y":870},{"x":49.9,"y":501},{"x":12.1,"y":1356},{"x":15.2,"y":1338},{"x":22.9,"y":1440},{"x":14.5,"y":1722},{"x":16.3,"y":1722},{"x":21.8,"y":1842}
],
"stars":[
{"x":18.2,"y":594},{"x":25.1,"y":1638},{"x":22.4,"y":1896},{"x":58.5,"y":1614}
]
},
"layer":[
{
 "encoding":{
  "x":{"field":"x","type":"quantitative","scale":{"domain":[-50,100],"nice":false,"zero":false},
   "axis":{"orient":"bottom","values":[-40,-20,0,20,40,60,80,100],"format":"d","labelFontSize":17,"tickSize":7,"tickWidth":1.2,"labelPadding":5,
    "title":"ΔBIC","titleFont":"Liberation Serif","titleFontSize":54,"titleFontWeight":"normal","titleColor":"#111111","titleX":264,"titleY":62,"titleBaseline":"alphabetic","titleAlign":"center"}},
  "y":{"field":"y","type":"quantitative","scale":{"domain":[0,2006],"reverse":true,"nice":false,"zero":false},
   "axis":{"orient":"left","values":[0,250,500,750,1000,1250,1500,1750,2000],"format":"d","labelFontSize":17,"tickSize":7,"tickWidth":1.2,"labelPadding":6,"title":null}}
 },
 "layer":[
  {"data":{"values":[{"x":-10,"x2":10,"y":0,"y2":2006}]},"mark":{"type":"rect","color":"#4169e1","opacity":0.18},"encoding":{"x2":{"field":"x2"},"y2":{"field":"y2"}}},
  {"data":{"values":[{"x":40.8,"x2":115,"y":-60,"y2":834}]},"mark":{"type":"rect","color":"#ffffff"},"encoding":{"x2":{"field":"x2"},"y2":{"field":"y2"}}},
  {"data":{"name":"blue"},"mark":{"type":"circle","color":"#4169e1","opacity":0.58,"size":30}},
  {"data":{"name":"gray"},"mark":{"type":"circle","color":"#8a8a8a","opacity":0.55,"size":170}},
  {"data":{"name":"pink"},"mark":{"type":"square","color":"#d9728f","opacity":0.6,"size":290}},
  {"data":{"name":"stars"},"mark":{"type":"point","shape":"M0,-1L0.2245,-0.309L0.951,-0.309L0.3633,0.118L0.588,0.809L0,0.382L-0.588,0.809L-0.3633,0.118L-0.951,-0.309L-0.2245,-0.309Z","filled":true,"color":"#fbad2a","opacity":1,"size":1500}},
  {"data":{"values":[{"x":12.0,"x2":115,"y":1110,"y2":1188}]},"mark":{"type":"rect","color":"#ffd763"},"encoding":{"x2":{"field":"x2"},"y2":{"field":"y2"}}}
 ]
},
{
 "layer":[
  {
   "encoding":{
    "x":{"field":"w","type":"quantitative","scale":{"domain":[4000,6000],"range":[504,710],"nice":false,"zero":false},
     "axis":{"orient":"bottom","offset":-421,"values":[4000,5000,6000],"format":"d","labelFontSize":13,"tickSize":5,"labelPadding":2,"domain":true,"domainWidth":1.2,"zindex":1,"title":null}},
    "y":{"field":"f","type":"quantitative","scale":{"domain":[-1.68,5.227],"range":[248,20],"nice":false,"zero":false},
     "axis":{"orient":"left","offset":-504,"values":[-1,0,1,2,3,4,5],"format":"d","labelFontSize":13,"tickSize":5,"labelPadding":3,"domain":true,"domainWidth":1.2,"zindex":1,"title":null}}
   },
   "layer":[
    {"data":{"values":[{"w":4050,"f":0,"o":1},{"w":5440,"f":0,"o":2},{"w":5440,"f":0.15,"o":3},{"w":5950,"f":0.15,"o":4}]},"mark":{"type":"line","color":"#b5413a","strokeWidth":5},"encoding":{"order":{"field":"o"}}},
    {"data":{"values":[{"w":4040,"f":-0.02,"o":1},{"w":5440,"f":-0.02,"o":2}]},"mark":{"type":"line","color":"#3a3a3a","opacity":0.55,"strokeWidth":5.5},"encoding":{"order":{"field":"o"}}},
    {"data":{"values":[{"w":5440,"f":0.0,"o":1},{"w":5540,"f":0.05,"o":2},{"w":5640,"f":-0.03,"o":3},{"w":5740,"f":0.04,"o":4},{"w":5840,"f":-0.01,"o":5},{"w":5950,"f":0.03,"o":6}]},"mark":{"type":"line","color":"#9a9a9a","opacity":0.6,"strokeWidth":3},"encoding":{"order":{"field":"o"}}},
    {"data":{"values":[{"w":4748,"f":0}]},"mark":{"type":"point","shape":"circle","filled":false,"stroke":"#8b90dc","strokeWidth":4,"size":340,"opacity":1}},
    {"data":{"values":[{"w":4748,"f":0}]},"mark":{"type":"circle","color":"#b8332a","size":90,"opacity":1}},
    {"data":{"values":[{"w":4223,"f":-1.288,"t":"z"},{"w":5217,"f":-1.288,"t":"M"}]},"mark":{"type":"text","fontSize":21,"fontStyle":"italic","align":"left","baseline":"alphabetic"},"encoding":{"text":{"field":"t"}}},
    {"data":{"values":[{"w":4395,"f":-1.288,"t":"= 4.96,"},{"w":5825,"f":-1.288,"t":"="}]},"mark":{"type":"text","fontSize":21,"align":"left","baseline":"alphabetic"},"encoding":{"text":{"field":"t"}}},
    {"data":{"values":[{"w":5398,"f":-1.424,"t":"1450"}]},"mark":{"type":"text","fontSize":14.5,"align":"left","baseline":"alphabetic"},"encoding":{"text":{"field":"t"}}},
    {"data":{"values":[{"w":3544,"f":2.6,"t":"f"}]},"mark":{"type":"text","fontSize":44,"fontStyle":"italic","angle":270,"align":"left","baseline":"alphabetic"},"encoding":{"text":{"field":"t"}}},
    {"data":{"values":[{"w":3621,"f":3.1,"t":"ν"}]},"mark":{"type":"text","fontSize":30,"fontStyle":"italic","angle":270,"align":"left","baseline":"alphabetic"},"encoding":{"text":{"field":"t"}}},
    {"data":{"values":[{"w":3544,"f":4.0,"t":"[μJy]"}]},"mark":{"type":"text","fontSize":44,"angle":270,"align":"left","baseline":"alphabetic"},"encoding":{"text":{"field":"t"}}}
   ]
  },
  {
   "encoding":{
    "x":{"field":"w","type":"quantitative","scale":{"domain":[4000,6000],"range":[504,710],"nice":false,"zero":false},
     "axis":{"orient":"top","offset":-20,"values":[5000],"labels":false,"tickSize":4,"domain":true,"domainWidth":1.2,"zindex":1,"title":null}},
    "y":{"field":"f","type":"quantitative","scale":{"domain":[-5.6,-4.433],"range":[20,-15],"nice":false,"zero":false},
     "axis":{"orient":"left","offset":-504,"values":[-5],"format":"d","labelFontSize":13,"tickSize":5,"labelPadding":3,"domain":true,"domainWidth":1.2,"zindex":1,"title":null}}
   },
   "layer":[
    {"data":{"values":[{"w":4223,"f":-5.133,"t":"z"},{"w":5217,"f":-5.133,"t":"M"}]},"mark":{"type":"text","fontSize":21,"fontStyle":"italic","align":"left","baseline":"alphabetic"},"encoding":{"text":{"field":"t"}}},
    {"data":{"values":[{"w":4395,"f":-5.133,"t":"= 5.28,"},{"w":5825,"f":-5.133,"t":"="}]},"mark":{"type":"text","fontSize":21,"align":"left","baseline":"alphabetic"},"encoding":{"text":{"field":"t"}}},
    {"data":{"values":[{"w":5398,"f":-5.25,"t":"1450"}]},"mark":{"type":"text","fontSize":14.5,"align":"left","baseline":"alphabetic"},"encoding":{"text":{"field":"t"}}}
   ]
  }
 ],
 "resolve":{"scale":{"x":"independent","y":"independent"}}
}
],
"resolve":{"scale":{"x":"independent","y":"independent"}}
}
